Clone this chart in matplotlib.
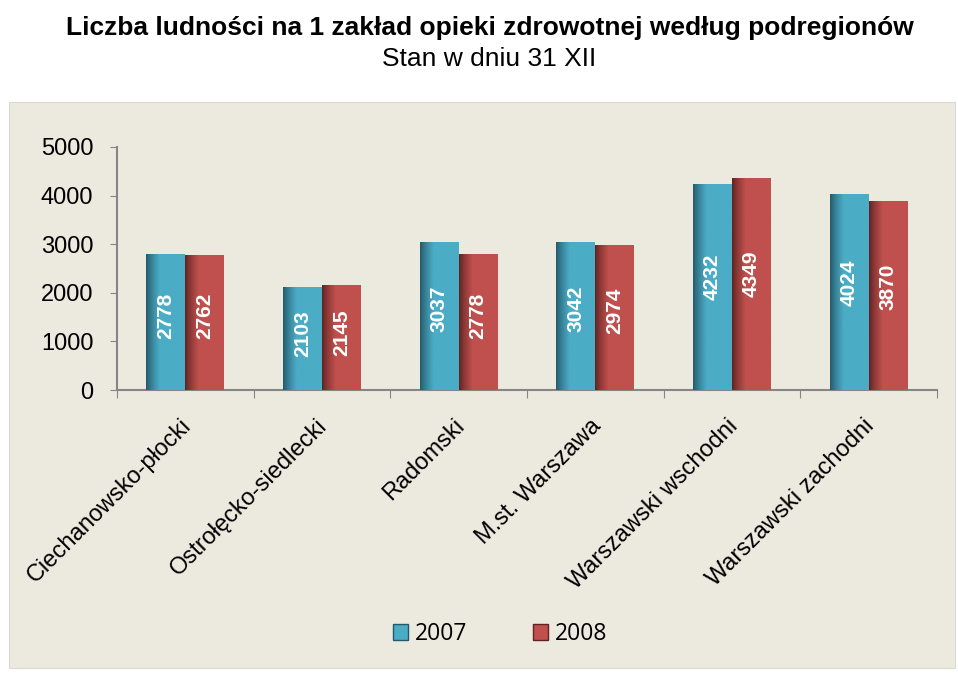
import numpy as np
import matplotlib.pyplot as plt
from matplotlib.patches import Rectangle, Patch
from matplotlib.colors import to_rgb

regions = ['Ciechanowsko-płocki', 'Ostrołęcko-siedlecki', 'Radomski',
           'M.st. Warszawa', 'Warszawski wschodni', 'Warszawski zachodni']
v2007 = [2778, 2103, 3037, 3042, 4232, 4024]
v2008 = [2762, 2145, 2778, 2974, 4349, 3870]
years = ['2007', '2008']

blue, blue_dark = '#4BACC6', '#24596A'
red, red_dark = '#C0504D', '#5E2322'
bg = '#ECE9DF'

plt.rcParams['font.family'] = ['Liberation Sans', 'DejaVu Sans']

fig = plt.figure(figsize=(9.58, 6.73), dpi=100)
fig.patches.append(Rectangle((0.0094, 0.0074), 0.9875, 0.841, transform=fig.transFigure,
                             facecolor=bg, edgecolor='#DCD9CF', lw=0.8, zorder=-5))

fig.text(0.511, 0.958, 'Liczba ludności na 1 zakład opieki zdrowotnej według podregionów',
         ha='center', va='center', fontsize=19, fontweight='bold')
fig.text(0.511, 0.913, 'Stan w dniu 31 XII', ha='center', va='center', fontsize=19)

ax = fig.add_axes([0.1221, 0.4205, 0.8560, 0.3611])
ax.set_facecolor('none')
ax.set_zorder(2)

x = np.arange(len(regions))
w = 0.285


def shaded_bars(xpos, vals, base, dark):
    bars = ax.bar(xpos, vals, w, color=base, zorder=2)
    c0 = np.array(to_rgb(dark))
    c1 = np.array(to_rgb(base))
    t = np.linspace(0, 1, 60)
    t = np.clip(t / 0.35, 0, 1) ** 0.8
    grad = (c0[None, :] * (1 - t[:, None]) + c1[None, :] * t[:, None])[None, :, :]
    for b in bars:
        x0, h = b.get_x(), b.get_height()
        ax.imshow(grad, extent=(x0, x0 + w, 0, h), aspect='auto', zorder=3,
                  interpolation='bilinear')
    for xi, v in zip(xpos, vals):
        ax.text(xi, v * 0.55, str(v), rotation=90, ha='center', va='center',
                color='white', fontweight='bold', fontsize=15, zorder=4)
    return bars


shaded_bars(x - w / 2, v2007, blue, blue_dark)
shaded_bars(x + w / 2, v2008, red, red_dark)

ax.set_xlim(-0.5, len(regions) - 0.5)
ax.set_ylim(0, 5000)
ax.set_yticks(range(0, 5001, 1000))
ax.tick_params(axis='y', labelsize=17, length=5, color='#868686', pad=12)

ax.set_xticks(np.arange(-0.5, len(regions)))
ax.set_xticklabels([])
ax.tick_params(axis='x', length=6, color='#868686')
for xi, lab in zip(x, regions):
    ax.annotate(lab, xy=(xi, 0), xycoords=('data', 'axes fraction'),
                xytext=(-4, -18), textcoords='offset points',
                rotation=45, ha='right', va='top', rotation_mode='anchor', fontsize=17)

for s in ['top', 'right']:
    ax.spines[s].set_visible(False)
for s in ['left', 'bottom']:
    ax.spines[s].set_color('#868686')
    ax.spines[s].set_linewidth(1.5)

handles = [Patch(facecolor=blue, edgecolor=blue_dark, lw=1),
           Patch(facecolor=red, edgecolor=red_dark, lw=1)]
fig.legend(handles, years, loc='center', bbox_to_anchor=(0.522, 0.058), ncol=2,
           frameon=False, prop={'family': 'Open Sans', 'size': 16.5},
           handlelength=0.65, handleheight=0.65, columnspacing=2.9, handletextpad=0.3)

fig.savefig('out.png', dpi=100)
